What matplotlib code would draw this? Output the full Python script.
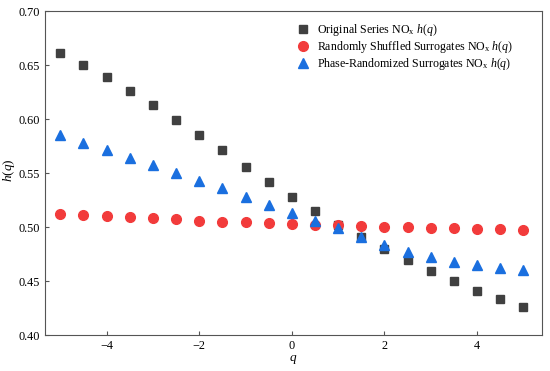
import matplotlib
matplotlib.use('Agg')
import matplotlib.pyplot as plt
import numpy as np

plt.rcParams['font.family'] = 'Liberation Serif'
plt.rcParams['mathtext.fontset'] = 'custom'
plt.rcParams['mathtext.rm'] = 'Liberation Serif'
plt.rcParams['mathtext.it'] = 'Liberation Serif:italic'

q = np.arange(-5, 5.01, 0.5)
h_original = [0.661, 0.650, 0.639, 0.626, 0.613, 0.599, 0.585, 0.571, 0.556, 0.542, 0.528,
              0.515, 0.502, 0.491, 0.480, 0.469, 0.459, 0.450, 0.441, 0.433, 0.426]
h_shuffled = [0.512, 0.511, 0.510, 0.509, 0.508, 0.507, 0.506, 0.505, 0.505, 0.504, 0.503,
              0.502, 0.502, 0.501, 0.500, 0.500, 0.499, 0.499, 0.498, 0.498, 0.497]
h_phase = [0.585, 0.578, 0.571, 0.564, 0.557, 0.550, 0.543, 0.536, 0.528, 0.520, 0.513,
           0.506, 0.499, 0.491, 0.483, 0.477, 0.472, 0.468, 0.465, 0.462, 0.460]

fig = plt.figure(figsize=(5.5, 3.71), dpi=100)
ax = fig.add_axes([0.0818, 0.097, 0.9036, 0.8733])

ax.plot(q, h_original, 's', color='#404040', markersize=6.2,
        label=r'Original Series NO$_{\mathrm{x}}$ $h(q)$')
ax.plot(q, h_shuffled, 'o', color='#f23b3b', markersize=7,
        label=r'Randomly Shuffled Surrogates NO$_{\mathrm{x}}$ $h(q)$')
ax.plot(q, h_phase, '^', color='#1a6fdf', markersize=7.5,
        label=r'Phase-Randomized Surrogates NO$_{\mathrm{x}}$ $h(q)$')

ax.set_xlim(-5.33, 5.40)
ax.set_ylim(0.40, 0.70)
ax.set_xticks([-4, -2, 0, 2, 4])
ax.set_yticks(np.arange(0.40, 0.701, 0.05))
ax.yaxis.set_major_formatter(matplotlib.ticker.FormatStrFormatter('%.2f'))
ax.tick_params(direction='in', labelsize=8.8, length=3, color='#555555')
ax.tick_params(axis='y', pad=3.5)
for s in ax.spines.values():
    s.set_color('#555555')

ax.set_xlabel('$q$', fontsize=9.5, labelpad=1)
ax.set_ylabel('$h(q)$', fontsize=9.5)
ax.yaxis.set_label_coords(-0.057, 0.51)

ax.legend(loc='upper right', bbox_to_anchor=(0.942, 0.966), frameon=False, fontsize=8.6,
          handletextpad=0.6, borderaxespad=0, borderpad=0, labelspacing=0.08,
          handlelength=1.2)

fig.savefig('out.png', dpi=100)
